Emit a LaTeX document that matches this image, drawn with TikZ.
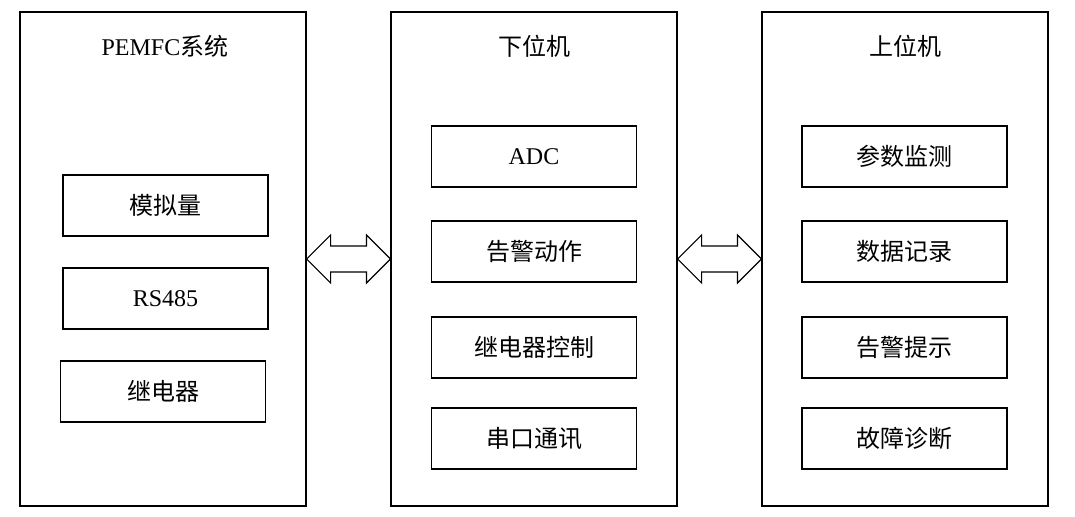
\documentclass[tikz,border=0pt]{standalone}
\usepackage{fontspec}
\setmainfont{Liberation Serif}
\newfontfamily\cjk{Noto Sans CJK SC}
\usetikzlibrary{calc}

\newcommand{\zh}[1]{{\cjk #1}}
% double-headed block arrow between two named boxes
\newcommand{\linkarrow}[2]{%
  \draw[linkline] (#1.east) -- ++(24,-24) -- ++(0,11) -- ($(#2.west)+(-24,-13)$)
    -- ++(0,-11) -- (#2.west) -- ++(-24,24) -- ++(0,-11)
    -- ($(#1.east)+(24,13)$) -- ++(0,11) -- cycle;}

\tikzset{
  outerbox/.style={draw, line width=0.9pt, minimum width=214.5pt, minimum height=370.5pt, inner sep=0pt},
  innerbox/.style={draw, line width=0.9pt, minimum width=153.75pt, minimum height=45.75pt, inner sep=0pt, font=\fontsize{18}{21}\selectfont},
  titletext/.style={font=\fontsize{18}{21}\selectfont},
  linkline/.style={line width=0.9pt, line join=miter}
}

\begin{document}
\begin{tikzpicture}[x=0.75pt, y=-0.75pt]
  \useasboundingbox (0,0) rectangle (1075,517);

  % three main blocks
  \node[outerbox] (pemfc) at (163,259) {};
  \node[outerbox] (lower) at (534,259) {};
  \node[outerbox] (upper) at (905,259) {};

  \node[titletext] (pemfctitle) at (165,46) {PEMFC\zh{系统}};
  \node[titletext] (lowertitle) at (534,46) {\zh{下位机}};
  \node[titletext] (uppertitle) at (905,46) {\zh{上位机}};

  % PEMFC side
  \node[innerbox] (analog) at (165.5,205.5) {\zh{模拟量}};
  \node[innerbox] (rs) at (165.5,298.5) {RS485};
  \node[innerbox] (relay) at (163,391.5) {\zh{继电器}};

  % lower computer
  \node[innerbox] (adc) at (534,156.5) {ADC};
  \node[innerbox] (alarmact) at (534,251.5) {\zh{告警动作}};
  \node[innerbox] (relayctl) at (534,347.5) {\zh{继电器控制}};
  \node[innerbox] (serial) at (534,438.5) {\zh{串口通讯}};

  % upper computer
  \node[innerbox] (monitor) at (904.5,156.5) {\zh{参数监测}};
  \node[innerbox] (record) at (904.5,251.5) {\zh{数据记录}};
  \node[innerbox] (alarmtip) at (904.5,347.5) {\zh{告警提示}};
  \node[innerbox] (diagnose) at (904.5,438.5) {\zh{故障诊断}};

  \linkarrow{pemfc}{lower}
  \linkarrow{lower}{upper}
\end{tikzpicture}
\end{document}
